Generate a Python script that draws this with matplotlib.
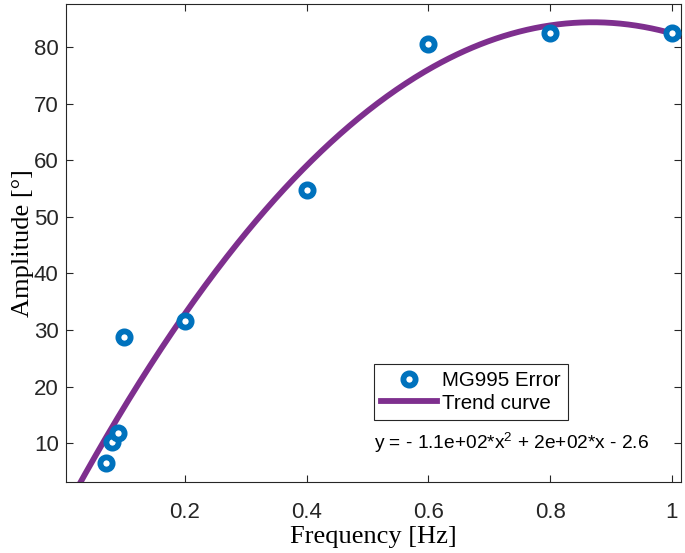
import numpy as np
import matplotlib
matplotlib.use("Agg")
import matplotlib.pyplot as plt

# Data
freq = [0.07, 0.08, 0.09, 0.10, 0.20, 0.40, 0.60, 0.80, 1.00]
amplitude = [6.6, 10.2, 11.9, 28.7, 31.6, 54.7, 80.5, 82.4, 82.4]
xticks = [0.2, 0.4, 0.6, 0.8, 1.0]
xticklabels = ["0.2", "0.4", "0.6", "0.8", "1"]
yticks = [10, 20, 30, 40, 50, 60, 70, 80]
series_label = "MG995 Error"
trend_label = "Trend curve"
equation = r"y = - 1.1e+02*x$^{2}$ + 2e+02*x - 2.6"

plt.rcParams["mathtext.fontset"] = "custom"
plt.rcParams["mathtext.rm"] = "Liberation Sans"
plt.rcParams["mathtext.it"] = "Liberation Sans"

fig = plt.figure(figsize=(6.85, 5.53), dpi=100)
ax = fig.add_axes([0.0959, 0.1284, 0.8983, 0.8644])

coef = np.polyfit(freq, amplitude, 2)
xs = np.linspace(0.0, 1.02, 400)
ys = np.polyval(coef, xs)

ax.plot(freq, amplitude, "o", linestyle="none", markersize=8.8, markeredgewidth=4.2,
        markerfacecolor="white", markeredgecolor="#0072BD", label=series_label, zorder=3)
ax.plot(xs, ys, "-", color="#7E2F8E", linewidth=4.2, label=trend_label, zorder=2)

ax.set_xlim(0.004, 1.015)
ax.set_ylim(3.17, 87.6)
ax.set_xticks(xticks)
ax.set_xticklabels(xticklabels)
ax.set_yticks(yticks)

for sp in ax.spines.values():
    sp.set_color("#262626")
    sp.set_linewidth(0.8)
ax.tick_params(direction="in", length=5, width=0.8, colors="#262626",
               top=True, right=True, labelsize=16)
ax.tick_params(axis="x", pad=14.5)
ax.tick_params(axis="y", pad=5)
for lab in ax.get_xticklabels() + ax.get_yticklabels():
    lab.set_fontfamily("Liberation Sans")

ax.set_xlabel("Frequency [Hz]", fontfamily="Liberation Serif", fontsize=19, labelpad=2)
ax.set_ylabel("Amplitude [°]", fontfamily="Liberation Serif", fontsize=19, labelpad=0)

leg = ax.legend(loc="upper left", bbox_to_anchor=(0.501, 0.247), fancybox=False,
                edgecolor="#262626", framealpha=1,
                prop={"family": "Liberation Sans", "size": 14.8},
                handlelength=2.7, handletextpad=0.25, borderpad=0.35,
                labelspacing=0.17, borderaxespad=0)
leg.get_frame().set_linewidth(0.8)

ax.text(0.501, 0.0816, equation, transform=ax.transAxes, fontsize=13.8,
        fontfamily="Liberation Sans", color="black", ha="left", va="center")

fig.savefig("out.png", dpi=100)
